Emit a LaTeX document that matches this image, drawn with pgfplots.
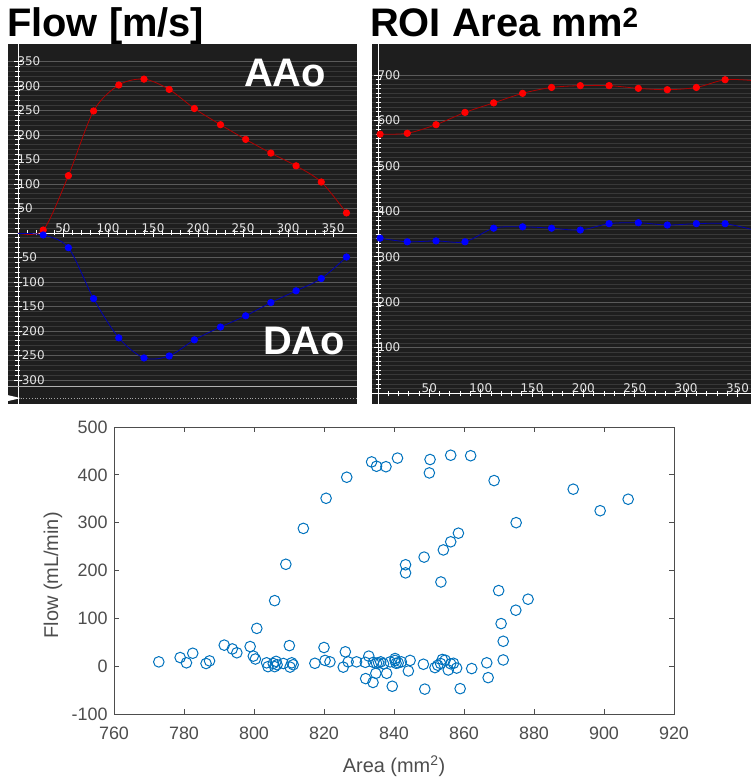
\documentclass[border=0pt]{standalone}
\usepackage{pgfplots}
\pgfplotsset{compat=1.18}
\usepackage{fontspec}
\setmainfont{Liberation Sans}
\newfontfamily\tahoma{DejaVu Sans}

\definecolor{panel}{HTML}{1E1E1E}
\definecolor{gridmaj}{HTML}{5A5A5A}
\definecolor{gridmin}{HTML}{383838}
\definecolor{ticklbl}{HTML}{E4E4E4}
\definecolor{aaoline}{HTML}{B00000}
\definecolor{daoline}{HTML}{0000B0}
\definecolor{mblue}{RGB}{0,114,189}
\definecolor{mgray}{HTML}{4D4D4D}

\pgfplotsset{
  darkpanel/.style={
    scale only axis, anchor=south west,
    axis lines=middle, axis line style={white,-}, inner axis line style={-},
    axis background/.style={fill=panel},
    tick align=center, major tick length=8bp, minor tick length=5bp,
    tick style={white, line width=0.8bp},
    ymajorgrids, yminorgrids,
    major grid style={gridmaj, line width=0.8bp},
    minor grid style={gridmin, line width=0.8bp},
    tick label style={font=\tahoma\fontsize{12}{14}\selectfont, text=ticklbl},
    xticklabel style={anchor=south, yshift=1bp},
    yticklabel style={anchor=west},
    /pgf/number format/assume math mode=true,
  },
  redser/.style={aaoline, line width=0.8bp, smooth, mark=*, mark size=3.2bp,
    mark options={fill=red, draw=red}},
  blueser/.style={daoline, line width=0.8bp, smooth, mark=*, mark size=3.2bp,
    mark options={fill=blue, draw=blue}},
}

\begin{document}
\begin{tikzpicture}
\useasboundingbox (0,0) rectangle (751bp,781bp);

% titles
\node[anchor=base west, inner sep=0, font=\bfseries\fontsize{40}{40}\selectfont] at (7bp,744bp) {Flow [m/s]};
\node[anchor=base west, inner sep=0, font=\bfseries\fontsize{40}{40}\selectfont] at (370bp,744bp) {ROI Area mm\textsuperscript{2}};

% flow panel
\begin{axis}[darkpanel, at={(8bp,377bp)}, width=349bp, height=360bp,
  xmin=-11.1, xmax=376.7, ymin=-349, ymax=385.7,
  xtick={0,50,...,350}, ytick={-300,-250,...,350},
  minor x tick num=4, minor y tick num=4]
  \draw[gray!60, line width=0.8bp] (axis cs:-11.1,-314) -- (axis cs:376.7,-314);
  \draw[gray!70, dotted, line width=0.8bp] (axis cs:3,-337) -- (axis cs:376.7,-337);
  \fill[white] (axis cs:-11.1,-331) -- (axis cs:3,-337) -- (axis cs:-11.1,-343) -- cycle;
  \addplot[redser, mark indices={2,...,14}] coordinates {
    (0,0) (28,6) (56,117) (84,249) (112,302) (140,314) (168,293) (196,254)
    (225,221) (253,191) (281,163) (309,137) (337,104) (365,41)
  };
  \addplot[blueser, mark indices={2,...,14}] coordinates {
    (0,-1) (28,-4) (56,-30) (84,-134) (112,-214) (140,-255) (168,-251) (196,-218)
    (225,-192) (253,-169) (281,-142) (309,-118) (337,-93) (365,-49)
  };
\end{axis}
\node[anchor=base, inner sep=0, text=white, font=\bfseries\fontsize{40}{40}\selectfont] at (285bp,694bp) {AAo};
\node[anchor=base, inner sep=0, text=white, font=\bfseries\fontsize{40}{40}\selectfont] at (304bp,426bp) {DAo};

% area panel
\begin{axis}[darkpanel, at={(372bp,377bp)}, width=379bp, height=360bp,
  xmin=-5.84, xmax=363.2, ymin=-24.2, ymax=768.7,
  xtick={0,50,...,350}, ytick={0,100,...,700},
  minor x tick num=4, minor y tick num=9]
  \addplot[redser] coordinates {
    (2,570) (28.5,572) (56.5,591) (84.7,618) (112.6,639) (140.8,660) (169,673)
    (197,677) (225,677) (253.5,671) (281.7,668) (310,673) (338,690) (366,688)
  };
  \addplot[blueser] coordinates {
    (2,341) (28.5,333) (56.5,335) (84.7,333) (112.6,363) (140.8,366) (169,363)
    (197,359) (225,373) (253.5,375) (281.7,370) (310,373) (338,373) (366,359)
  };
\end{axis}

% flow vs area scatter
\begin{axis}[scale only axis, anchor=south west, at={(114bp,67bp)},
  width=560bp, height=287bp,
  xmin=760, xmax=920, ymin=-100, ymax=500,
  xtick={760,780,...,920}, ytick={-100,0,...,500},
  tick align=inside, major tick length=5bp,
  axis line style={mgray, line width=0.8bp},
  tick style={mgray, line width=0.8bp},
  tick label style={font=\fontsize{18}{20}\selectfont, text=mgray},
  xticklabel style={yshift=-9bp},
  yticklabel style={xshift=-3bp},
  /pgf/number format/assume math mode=true,
  label style={font=\fontsize{20}{22}\selectfont, text=mgray},
  xlabel={Area (mm\textsuperscript{2})},
  ylabel={Flow (mL/min)},
  xlabel style={at={(axis description cs:0.5,-0.181)}, anchor=center},
  ylabel style={at={(axis description cs:-0.109,0.483)}, anchor=center},
  clip=false]
  \addplot[only marks, mark=o, mark size=5.3bp, mark options={mblue, line width=1bp}] coordinates {
    (800.8,79) (805.9,137) (809.1,213) (814.1,288) (820.6,351) (826.5,395)
    (833.6,427) (835,418) (837.7,417) (841,435) (850.1,404) (850.3,432)
    (856.2,441) (861.9,440) (868.6,388) (891.2,370) (898.9,325) (906.9,349)
    (874.9,300) (858.4,278) (856.2,260) (854.1,243) (848.6,228) (843.3,212)
    (843.3,195) (853.4,176)
    (869.9,158) (878.3,140) (874.8,117) (870.6,89) (871.2,52) (871.2,13)
    (772.8,9) (778.9,18) (780.7,7) (782.5,27) (786.3,5.6) (787.3,11)
    (791.5,44) (793.8,36) (795.1,28) (798.9,41) (799.8,21) (800.4,15)
    (803.6,7) (804,-1) (805.5,5.6) (806.3,10) (806.6,3) (805.9,-1)
    (808.4,5.6) (810.1,43) (810.3,-2) (810.8,7) (811.2,3) (817.4,6)
    (820,39) (820.3,12) (821.7,9) (825.5,-2) (826.1,30) (826.9,9)
    (829.3,9) (831.8,8) (831.9,-26) (832.8,21) (834.1,8) (834,-34)
    (834.8,-15) (835,6) (835.6,7) (836.2,9) (837,5) (837.9,-15)
    (838.9,9) (839.5,-42) (840.3,16) (840.6,6) (840.3,12) (841.2,7)
    (842.1,9) (844.1,-10) (844.6,12) (848.4,4) (848.8,-48) (851.7,-3)
    (852.5,2) (853.3,5.6) (853.8,14) (854.6,12.6) (855.5,-8) (856.2,5)
    (857,6) (857.9,-4) (858.9,-47) (862.2,-5) (866.5,7) (866.9,-24)
  };
\end{axis}
\end{tikzpicture}
\end{document}
